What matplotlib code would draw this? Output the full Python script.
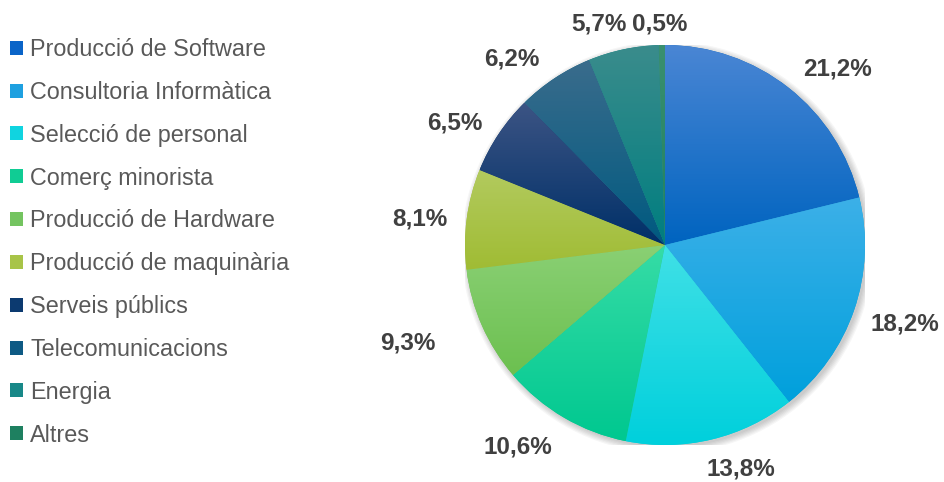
import numpy as np
import matplotlib.pyplot as plt
from matplotlib.patches import Patch, Circle
from matplotlib.colors import to_rgb

sectors = ['Producció de Software', 'Consultoria Informàtica', 'Selecció de personal',
           'Comerç minorista', 'Producció de Hardware', 'Producció de maquinària',
           'Serveis públics', 'Telecomunicacions', 'Energia', 'Altres']
shares = [21.2, 18.2, 13.8, 10.6, 9.3, 8.1, 6.5, 6.2, 5.7, 0.5]
# bottom colour / top colour of each wedge gradient
bottom_colors = ['#0064c0', '#00a0dc', '#00d0dc', '#00c890', '#6cc050', '#a0bc34',
                 '#003068', '#005a80', '#007e80', '#1e8060']
top_colors = ['#4a86d4', '#3cb0e8', '#40e0e6', '#36dca6', '#8ad074', '#b2ca5e',
              '#3c5484', '#3a6c8c', '#3a8c8c', '#3a9070']
legend_colors = ['#0a64c8', '#1ea0e0', '#10d4e0', '#10cc94', '#74c460', '#a8c448',
                 '#0c3a70', '#0e5a84', '#188888', '#1e8060']

plt.rcParams['font.family'] = ['Liberation Sans', 'DejaVu Sans']

fig = plt.figure(figsize=(9.45, 4.82), dpi=100)
ax = fig.add_axes([465 / 945, 37 / 482, 400 / 945, 400 / 482])

# soft shadow
for k in range(6):
    ax.add_patch(Circle((0.012, -0.012), 1.0 + 0.006 * k, facecolor='black',
                        alpha=0.035, edgecolor='none', zorder=0))

wedges, _ = ax.pie(shares, colors=bottom_colors, startangle=90, counterclock=False,
                   wedgeprops=dict(linewidth=0))

# vertical gradient in every wedge, lighter at top
for w, cb, ct in zip(wedges, bottom_colors, top_colors):
    t = np.deg2rad(np.linspace(w.theta1, w.theta2, 100))
    xs = np.concatenate([[0], np.cos(t)])
    ys = np.concatenate([[0], np.sin(t)])
    grad = np.linspace(0, 1, 64)[:, None, None]
    img = np.array(to_rgb(ct)) * (1 - grad) + np.array(to_rgb(cb)) * grad
    im = ax.imshow(img, extent=(xs.min(), xs.max(), ys.min(), ys.max()),
                   origin='upper', aspect='auto', zorder=2, interpolation='bilinear')
    im.set_clip_path(w)

ax.set_xlim(-1, 1)
ax.set_ylim(-1, 1)
ax.set_aspect('equal')

# labels outside the wedge end
nudges = [(0.08, -0.12), (-0.04, 0.03), (0.10, 0.05), (-0.10, 0.07), (-0.09, 0.04),
          (0.07, -0.04), (0.03, -0.11), (-0.07, -0.12), (-0.08, -0.07), (-0.01, -0.06)]
total = sum(shares)
cum = 0
for i, v in enumerate(shares):
    theta = np.deg2rad(90 - (cum + v / 2) / total * 360)
    cum += v
    c, s = np.cos(theta), np.sin(theta)
    r = 1.10 + 0.2 * abs(c) + 0.06 * abs(s)
    x, y = r * c + nudges[i][0], r * s + nudges[i][1]
    ax.text(x, y, f'{v:.1f}%'.replace('.', ','), ha='center', va='center',
            fontsize=17.5, fontweight='bold', color='#404040', clip_on=False)

handles = [Patch(facecolor=col, edgecolor='none') for col in legend_colors]
fig.legend(handles, sectors, loc='upper left', bbox_to_anchor=(-0.0065, 0.955),
           frameon=False, fontsize=16.8, labelcolor='#595959',
           handlelength=0.55, handleheight=0.55, handletextpad=0.3,
           labelspacing=0.85, borderaxespad=0.3)

fig.savefig('out.png', dpi=100)
